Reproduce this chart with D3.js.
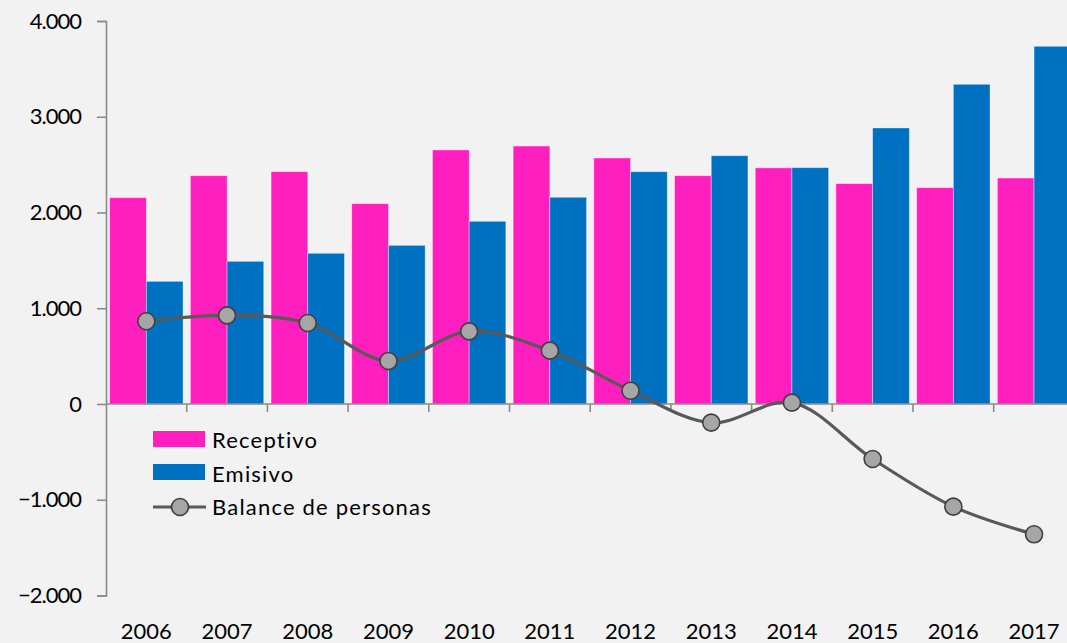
<!DOCTYPE html>
<html>
<head>
<meta charset="utf-8">
<title>Receptivo / Emisivo</title>
<script src="https://cdn.jsdelivr.net/npm/d3@7"></script>
<style>
html, body {
  margin: 0;
  padding: 0;
  background: #f2f2f2;
  overflow: hidden;
}
svg text {
  font-family: Lato, "Open Sans", sans-serif;
  fill: #000;
}
</style>
</head>
<body>
<div id="chart"></div>
<script>
// data
var years = ["2006","2007","2008","2009","2010","2011","2012","2013","2014","2015","2016","2017"];
var receptivo = [2155, 2384, 2426, 2092, 2653, 2694, 2569, 2384, 2466, 2301, 2259, 2360];
var emisivo   = [1281, 1490, 1574, 1657, 1908, 2159, 2426, 2593, 2468, 2883, 3339, 3736];
var balance   = [864, 926, 846, 449, 759, 557, 139, -195, 14, -574, -1072, -1361];
var yTicks = [-2000, -1000, 0, 1000, 2000, 3000, 4000];
var seriesNames = ["Receptivo", "Emisivo", "Balance de personas"];

var W = 1067, H = 643;
var pink = "#ff1ebe", blue = "#0070c0", axisGrey = "#8a8a8a";

var svg = d3.select("#chart").append("svg")
  .attr("width", W).attr("height", H);

var x = d3.scaleBand().domain(years).range([106, 1074.4]);
var x1 = d3.scaleBand().domain(["r","e"]).range([0, x.bandwidth()]).paddingInner(0).paddingOuter(0.1);
var y = d3.scaleLinear().domain([-2000, 4000]).range([595.5, 21]);

var fmt = d3.formatLocale({decimal: ",", thousands: ".", grouping: [3], currency: ["", "€"]}).format(",d");

// bars
var rows = years.map(function(yr, i) { return {year: yr, r: receptivo[i], e: emisivo[i]}; });
var g = svg.append("g").selectAll("g").data(rows).join("g")
  .attr("transform", function(d) { return "translate(" + x(d.year) + ",0)"; });
g.selectAll("rect")
  .data(function(d) { return [{k: "r", v: d.r}, {k: "e", v: d.e}]; })
  .join("rect")
  .attr("x", function(d) { return x1(d.k); })
  .attr("width", x1.bandwidth())
  .attr("y", function(d) { return y(Math.max(0, d.v)); })
  .attr("height", function(d) { return Math.abs(y(d.v) - y(0)); })
  .attr("fill", function(d) { return d.k == "r" ? pink : blue; })
  .attr("stroke", "rgba(255,255,255,0.45)")
  .attr("stroke-width", 0.8);

// y axis
var yAxis = svg.append("g")
  .attr("transform", "translate(106,0)")
  .call(d3.axisLeft(y).tickValues(yTicks).tickFormat(fmt).tickSize(9).tickPadding(16));
yAxis.select(".domain").attr("stroke", axisGrey).attr("stroke-width", 1.6);
yAxis.selectAll(".tick line").attr("stroke", axisGrey).attr("stroke-width", 1.6);
yAxis.selectAll(".tick text")
  .attr("font-size", 22).attr("font-family", "Lato, sans-serif").attr("fill", "#000")
  .attr("letter-spacing", "-1px");

// x axis at zero
var xAxis = svg.append("g").attr("transform", "translate(0," + y(0) + ")");
xAxis.append("line")
  .attr("x1", 106).attr("x2", W)
  .attr("stroke", axisGrey).attr("stroke-width", 1.6);
xAxis.selectAll("line.tk").data(years.slice(1)).join("line")
  .attr("class", "tk")
  .attr("x1", function(d) { return x(d); }).attr("x2", function(d) { return x(d); })
  .attr("y1", 0).attr("y2", 8)
  .attr("stroke", axisGrey).attr("stroke-width", 1.6);

svg.append("g").selectAll("text").data(years).join("text")
  .attr("x", function(d) { return x(d) + x.bandwidth() / 2; })
  .attr("y", 639)
  .attr("text-anchor", "middle")
  .attr("font-size", 22)
  .text(function(d) { return d; });

// balance line
var pts = years.map(function(yr, i) { return [x(yr) + x.bandwidth() / 2, y(balance[i])]; });
svg.append("path")
  .attr("d", d3.line().curve(d3.curveCatmullRom.alpha(0.5))(pts))
  .attr("fill", "none")
  .attr("stroke", "#595959")
  .attr("stroke-width", 3.2);
svg.append("g").selectAll("circle").data(pts).join("circle")
  .attr("cx", function(d) { return d[0]; })
  .attr("cy", function(d) { return d[1]; })
  .attr("r", 8.5)
  .attr("fill", "#a6a6a6")
  .attr("stroke", "#404040")
  .attr("stroke-width", 1.6);

// legend
var leg = svg.append("g");
leg.append("rect").attr("x", 153).attr("y", 431).attr("width", 52).attr("height", 16).attr("fill", pink);
leg.append("rect").attr("x", 153).attr("y", 464).attr("width", 52).attr("height", 16).attr("fill", blue);
leg.append("line").attr("x1", 153).attr("x2", 206).attr("y1", 507).attr("y2", 507)
  .attr("stroke", "#595959").attr("stroke-width", 3.2);
leg.append("circle").attr("cx", 180).attr("cy", 507).attr("r", 8.5)
  .attr("fill", "#a6a6a6").attr("stroke", "#404040").attr("stroke-width", 1.6);
leg.selectAll("text").data(seriesNames).join("text")
  .attr("x", 212)
  .attr("y", function(d, i) { return 448 + i * 33.5; })
  .attr("font-size", 22)
  .attr("letter-spacing", "1.2px")
  .text(function(d) { return d; });
</script>
</body>
</html>
